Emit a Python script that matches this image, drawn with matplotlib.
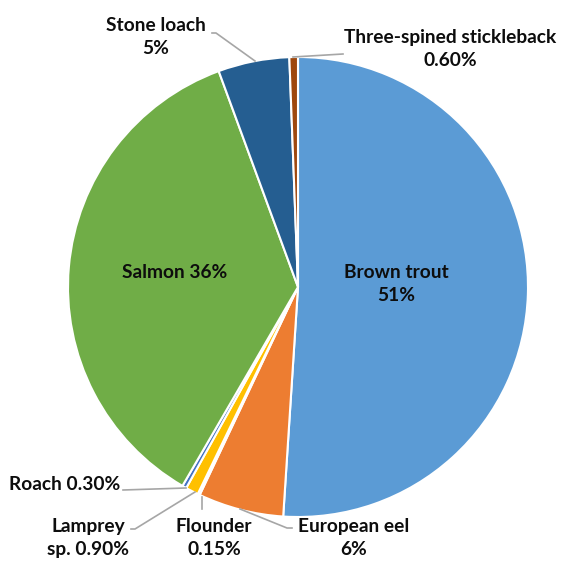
import matplotlib.pyplot as plt

# datos del gráfico
especies = ['Brown trout', 'European eel', 'Flounder', 'Lamprey sp.', 'Roach',
            'Salmon', 'Stone loach', 'Three-spined stickleback']
porcentajes = [51, 6, 0.15, 0.90, 0.30, 36, 5, 0.60]
etiquetas = ['Brown trout\n51%', 'European eel\n6%', 'Flounder\n0.15%', 'Lamprey\nsp. 0.90%',
             'Roach 0.30%', 'Salmon 36%', 'Stone loach\n5%', 'Three-spined stickleback\n0.60%']
colores = ['#5B9BD5', '#ED7D31', '#A5A5A5', '#FFC000', '#4472C4',
           '#70AD47', '#255E91', '#9E480E']

plt.rcParams['font.family'] = ['Lato', 'DejaVu Sans']

fig = plt.figure(figsize=(5.65, 5.63), dpi=100)
ax = fig.add_axes([0, 0, 1, 1])

R = 230.0
cx, cy = 298.0, 287.0


def p(px, py):
    # pasa de pixeles (origen arriba-izquierda) a coordenadas del pastel
    return ((px - cx) / R, (cy - py) / R)


ax.pie(porcentajes, colors=colores, startangle=90, counterclock=False,
       wedgeprops=dict(edgecolor='white', linewidth=1.5))

fs = 13.8
estilo = dict(fontsize=fs, fontweight='bold', color='#0d0d0d', linespacing=1.45)
gris = dict(color='#A6A6A6', lw=1.2)

# etiquetas dentro
ax.text(*p(396, 284), etiquetas[0], ha='center', va='center', **estilo)
ax.text(*p(175, 273), etiquetas[5], ha='center', va='center', **estilo)

# etiquetas fuera con líneas guía
ax.text(*p(156, 37), etiquetas[6], ha='center', va='center', **estilo)
ax.plot(*zip(p(212, 33), p(216, 33), p(255, 61)), **gris)

ax.text(*p(450, 49), etiquetas[7], ha='center', va='center', **estilo)
ax.plot(*zip(p(293, 57), p(343, 54)), **gris)

ax.text(*p(120, 484), etiquetas[4], ha='right', va='center', **estilo)
ax.plot(*zip(p(123, 490), p(186, 488)), **gris)

ax.text(*p(88, 538), etiquetas[3], ha='center', va='center', **estilo)
ax.plot(*zip(p(131, 529), p(135, 529), p(195, 492)), **gris)

ax.text(*p(214, 538), etiquetas[2], ha='center', va='center', **estilo)
ax.plot(*zip(p(202, 497), p(202, 509)), **gris)

ax.text(*p(354, 538), etiquetas[1], ha='center', va='center', **estilo)
ax.plot(*zip(p(240, 509), p(287, 528), p(292, 528)), **gris)

ax.set_xlim(-cx / R, (565 - cx) / R)
ax.set_ylim((cy - 563) / R, cy / R)
ax.set_aspect('equal')
ax.axis('off')

fig.savefig('out.png', dpi=100)
